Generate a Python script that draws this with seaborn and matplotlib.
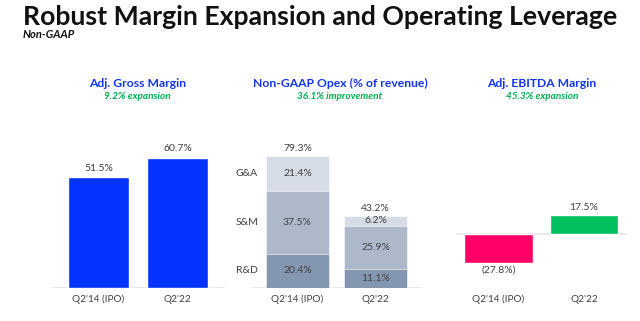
import matplotlib
matplotlib.use("Agg")
import matplotlib.pyplot as plt
import matplotlib.transforms as mtransforms
import seaborn as sns
import pandas as pd

sns.set_theme(style="white")
plt.rcParams['font.family'] = ['Lato', 'DejaVu Sans']

# ---- data ----
periods = ["Q2'14 (IPO)", "Q2'22"]
gross_margin = [51.5, 60.7]
opex_rd = [20.4, 11.1]
opex_sm = [37.5, 25.9]
opex_ga = [21.4, 6.2]
opex_total = [79.3, 43.2]
opex_segments = ["R&D", "S&M", "G&A"]
ebitda_margin = [-27.8, 17.5]
panel_titles = ["Adj. Gross Margin", "Non-GAAP Opex (% of revenue)", "Adj. EBITDA Margin"]
panel_subtitles = ["9.2% expansion", "36.1% improvement", "45.3% expansion"]

W, H = 640, 321
fig = plt.figure(figsize=(W / 100, H / 100), dpi=100)

BLUE = "#0433FF"
TITLE_BLUE = "#1434F5"
GREEN_TXT = "#00B050"
PINK = "#FF0066"
GREEN = "#00C060"
SEG_COLORS = ["#8497B0", "#ADB9CA", "#D6DCE5"]
TXT = "#404040"
BASE = "#E6E8EC"
VFS = 7.5


def add_ax(left, bottom, width, height):
    return fig.add_axes([left / W, bottom / H, width / W, height / H])


def clean(ax):
    for s in ax.spines.values():
        s.set_visible(False)
    ax.set_xticks([])
    ax.set_yticks([])
    ax.set_xlabel("")
    ax.set_ylabel("")
    ax.patch.set_alpha(0)


def ticklabels(ax):
    tr = mtransforms.blended_transform_factory(ax.transData, fig.transFigure)
    for i, p in enumerate(periods):
        ax.text(i, 1 - 299 / H, p, transform=tr, ha="center", va="center",
                fontsize=7.2, color=TXT)


# ---- Panel 1 ----
ax1 = add_ax(51.0, 33.3, 173.8, 150.0)
df1 = pd.DataFrame({"period": periods, "value": gross_margin})
sns.barplot(data=df1, x="period", y="value", color=BLUE, width=0.776,
            saturation=1, ax=ax1)
ax1.set_xlim(-0.6, 1.6)
ax1.set_ylim(0, 70)
ax1.axhline(0, xmin=0, xmax=1, color=BASE, lw=1.2, zorder=0)
for i, v in enumerate(gross_margin):
    ax1.text(i, v + 2.0, f"{v:.1f}%", ha="center", va="bottom", fontsize=VFS, color=TXT)
clean(ax1)
ticklabels(ax1)

# ---- Panel 2 (stacked) ----
ax2 = add_ax(250.5, 33.3, 171.9, 150.0)
bottoms = [0.0] * len(periods)
for seg_name, vals, col in zip(opex_segments, [opex_rd, opex_sm, opex_ga], SEG_COLORS):
    dfs = pd.DataFrame({"period": periods, "value": [b + v for b, v in zip(bottoms, vals)]})
    sns.barplot(data=dfs, x="period", y="value", color=col, width=0.81,
                saturation=1, ax=ax2)
    for i, v in enumerate(vals):
        ax2.text(i, bottoms[i] + v / 2, f"{v:.1f}%", ha="center", va="center",
                 fontsize=VFS, color=TXT, zorder=20)
    bottoms = [b + v for b, v in zip(bottoms, vals)]
# cumulative bars: lower segments drawn above taller ones
for k, p in enumerate(ax2.patches):
    p.set_zorder(10 - k // 2)
    p.set_edgecolor("white")
    p.set_linewidth(0.4)
for i, t in enumerate(opex_total):
    ax2.text(i, t + 1.5, f"{t:.1f}%", ha="center", va="bottom", fontsize=VFS, color=TXT)
lb = 0
for seg_name, v in zip(opex_segments, [opex_rd[0], opex_sm[0], opex_ga[0]]):
    ax2.text(-0.65, lb + v / 2, seg_name, ha="center", va="center", fontsize=VFS, color=TXT)
    lb += v
ax2.set_xlim(-0.6, 1.6)
ax2.set_ylim(0, 90)
ax2.axhline(0, color=BASE, lw=1.2, zorder=0)
clean(ax2)
ticklabels(ax2)

# ---- Panel 3 ----
ax3 = add_ax(455.8, 44.9, 171.0, 74.2)
df3 = pd.DataFrame({"period": periods, "value": ebitda_margin})
sns.barplot(data=df3, x="period", y="value", hue="period",
            palette=[PINK, GREEN], width=0.80, saturation=1, legend=False, ax=ax3)
ax3.set_xlim(-0.5, 1.5)
ax3.set_ylim(-40, 30)
ax3.axhline(0, color=BASE, lw=1.2, zorder=0)
for i, v in enumerate(ebitda_margin):
    if v < 0:
        ax3.text(i, v - 2.5, f"({abs(v):.1f}%)", ha="center", va="top", fontsize=VFS, color=TXT)
    else:
        ax3.text(i, v + 2.5, f"{v:.1f}%", ha="center", va="bottom", fontsize=VFS, color=TXT)
clean(ax3)
ticklabels(ax3)

# ---- panel titles ----
for cx, t, s in zip([137.7, 340.0, 541.7], panel_titles, panel_subtitles):
    fig.text(cx / W, 1 - 83.3 / H, t, ha="center", va="center", fontsize=8.7,
             fontweight="bold", color=TITLE_BLUE)
    fig.text(cx / W, 1 - 97.0 / H, s, ha="center", va="center", fontsize=7.2,
             fontweight="bold", fontstyle="italic", color=GREEN_TXT)

# ---- main title ----
title = fig.text(23.3 / W, 1 - 25.0 / H, "Robust Margin Expansion and Operating Leverage",
                 ha="left", va="baseline", fontsize=21, fontweight="bold", color="#111111")
fig.canvas.draw()
bb = title.get_window_extent()
target = 615.7 - 23.3
title.set_fontsize(21 * target / bb.width)
fig.text(22.5 / W, 1 - 37.8 / H, "Non-GAAP", ha="left", va="baseline", fontsize=8,
         fontweight="bold", fontstyle="italic", color="#111111")

fig.savefig("out.png", dpi=100)
